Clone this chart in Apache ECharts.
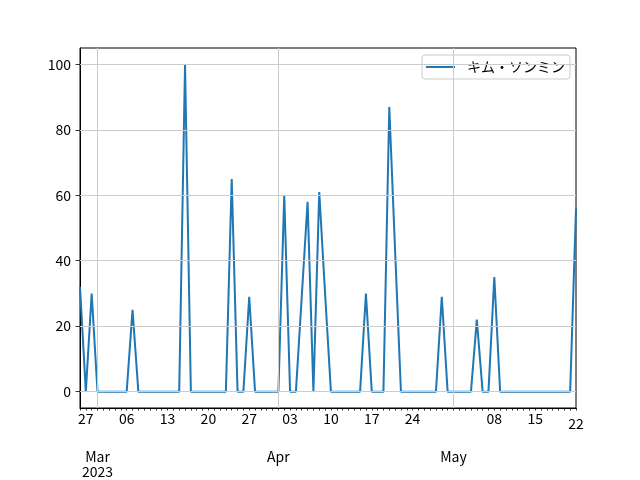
<!DOCTYPE html>
<html><head><meta charset="utf-8">
<script src="https://cdn.jsdelivr.net/npm/echarts@6/dist/echarts.min.js"></script>
<style>html,body{margin:0;padding:0;background:#fff}#c{width:640px;height:480px}</style>
</head><body><div id="c"></div>
<script>
const seriesName = 'キム・ソンミン';
const startDay = '2023-02-26';
const values = [32,0,30,0,0,0,0,0,0,25, 0,0,0,0,0,0,0,0,100,0, 0,0,0,0,0,0,65,0,0,29, 0,0,0,0,0,60,0,0,29,58,
  0,61,30,0,0,0,0,0,0,30, 0,0,0,87,43,0,0,0,0,0, 0,0,29,0,0,0,0,0,22,0, 0,35,0,0,0,0,0,0,0,0, 0,0,0,0,0,56];
const dayTickDates = ['2023-02-27','2023-03-06','2023-03-13','2023-03-20','2023-03-27','2023-04-03','2023-04-10','2023-04-17','2023-04-24','2023-05-08','2023-05-15','2023-05-22'];
const dayTickLabels = ['27','06','13','20','27','03','10','17','24','08','15','22'];
const monthTickDates = ['2023-03-01','2023-04-01','2023-05-01'];
const monthTickLabels = ['Mar\n2023','Apr','May'];
const yTicks = [0,20,40,60,80,100];

const DAY = 86400000;
function ts(s){const p=s.split('-').map(Number);return Date.UTC(p[0],p[1]-1,p[2]);}
const t0 = ts(startDay);
const dates = values.map((v,i)=>t0+i*DAY);
const data = values.map((v,i)=>[dates[i], v]);
const xMin = dates[0], xMax = dates[dates.length-1];
const dayMap = {}; dayTickDates.forEach((d,i)=>dayMap[ts(d)]=dayTickLabels[i]);
const monMap = {}; monthTickDates.forEach((d,i)=>monMap[ts(d)]=monthTickLabels[i]);
const FONT = 'Noto Sans CJK JP';
const gridLine = {color:'#cbcbcb', width:1, type:'solid'};

const chart = echarts.init(document.getElementById('c'), null, {renderer:'canvas'});
chart.setOption({
  animation:false,
  textStyle:{fontFamily:FONT},
  grid:{left:80,right:64,top:48,bottom:72,show:true,borderColor:'#000',borderWidth:1,backgroundColor:'transparent'},
  legend:{
    left:422, top:55, padding:[5,5,5,4],
    data:[{name:seriesName, icon:'rect'}],
    itemWidth:29, itemHeight:2,
    borderColor:'#cccccc', borderWidth:1, borderRadius:3, backgroundColor:'rgba(255,255,255,0.8)',
    textStyle:{fontFamily:FONT, fontSize:14, color:'#000', padding:[0,0,0,7], lineHeight:14}
  },
  xAxis:[{
    type:'value', min:xMin, max:xMax, gridIndex:0, scale:true,
    axisLine:{show:true, onZero:false, lineStyle:{color:'#000', width:1}},
    axisTick:{show:true, customValues:dates, length:2.5, lineStyle:{color:'#000', width:0.8}},
    axisLabel:{show:true, customValues:dayTickDates.map(ts), margin:4, fontFamily:FONT, fontSize:14, color:'#000',
      hideOverlap:false, showMinLabel:true, showMaxLabel:true,
      formatter:function(v){const s=dayMap[v]||''; return v===xMax?'{low|'+s+'}':s;},
      rich:{low:{padding:[5,0,0,0], fontSize:14, fontFamily:FONT, color:'#000'}}},
    splitLine:{show:false}
  },{
    type:'value', min:xMin, max:xMax, gridIndex:0, position:'bottom', scale:true,
    axisLine:{show:false},
    axisTick:{show:true, customValues:monthTickDates.map(ts), length:4.5, lineStyle:{color:'#000', width:0.8}},
    axisLabel:{show:true, customValues:monthTickDates.map(ts), margin:41, fontFamily:FONT, fontSize:14, color:'#000',
      lineHeight:15, hideOverlap:false,
      formatter:function(v){return monMap[v]||'';}},
    splitLine:{show:false}
  }],
  yAxis:{
    type:'value', min:-5, max:105,
    axisLine:{show:true, onZero:false, lineStyle:{color:'#000', width:1}},
    axisTick:{show:true, customValues:yTicks, length:4.5, lineStyle:{color:'#000', width:0.8}},
    axisLabel:{show:true, customValues:yTicks, margin:9, fontFamily:FONT, fontSize:14, color:'#000'},
    splitLine:{show:false}
  },
  series:[{
    name:'grid', type:'line', data:[], z:1, silent:true, xAxisIndex:0,
    markLine:{silent:true, symbol:['none','none'], label:{show:false}, lineStyle:gridLine, animation:false,
      data: yTicks.map(y=>({yAxis:y})).concat(monthTickDates.map(d=>({xAxis:ts(d)})))}
  },{
    name:seriesName, type:'line', data:data, z:3, xAxisIndex:0,
    showSymbol:false, symbol:'none',
    lineStyle:{color:'#1f77b4', width:2}, itemStyle:{color:'#1f77b4'}
  }]
});
</script></body></html>
